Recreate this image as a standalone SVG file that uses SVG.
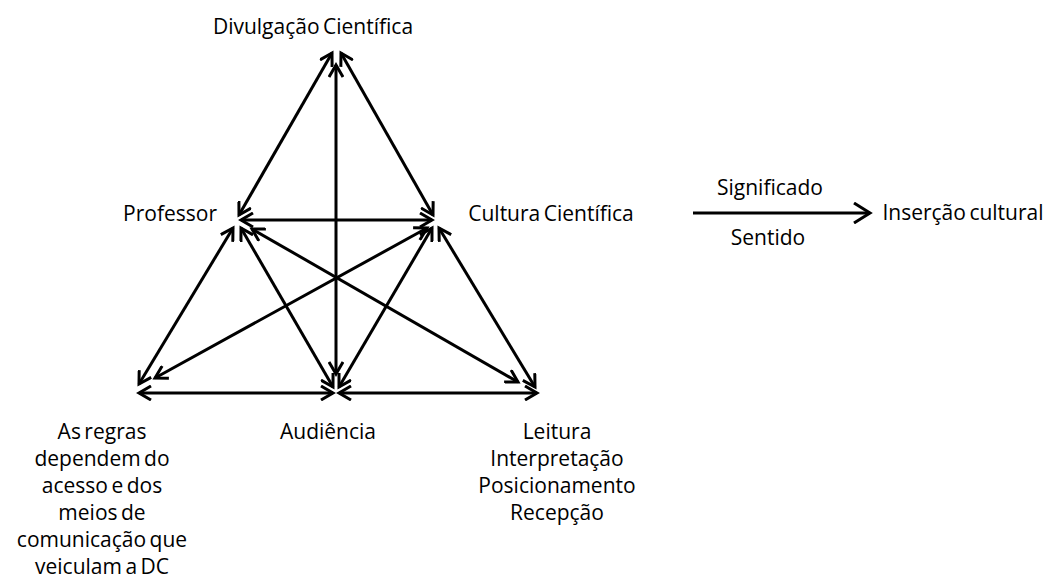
<svg xmlns="http://www.w3.org/2000/svg" width="1057" height="581" viewBox="0 0 1057 581">
<style>
text{font-family:"Open Sans","Noto Sans",sans-serif;font-size:21px;word-spacing:-2px;fill:#000;text-anchor:middle}
.c line{stroke:#000;stroke-width:3;fill:none}
.b{marker-start:url(#ah);marker-end:url(#ah)}
.s{marker-end:url(#ah2)}
</style>
<defs>
<marker id="ah" markerUnits="userSpaceOnUse" viewBox="0 0 16 16" markerWidth="16" markerHeight="16" refX="13" refY="8" orient="auto-start-reverse">
<path d="M1,1 L13,8 L1,15" fill="none" stroke="#000" stroke-width="3"/>
</marker>
<marker id="ah2" markerUnits="userSpaceOnUse" viewBox="0 0 20 22" markerWidth="20" markerHeight="22" refX="17" refY="11" orient="auto">
<path d="M1,1 L17,11 L1,21" fill="none" stroke="#000" stroke-width="3"/>
</marker>
</defs>
<rect width="1057" height="581" fill="#fff"/>
<g id="n-divulgacao"><text x="313" y="34">Divulgação Científica</text></g>
<g id="n-professor"><text x="170" y="221">Professor</text></g>
<g id="n-cultura"><text x="551" y="221">Cultura Científica</text></g>
<g id="n-regras"><text x="102" y="439">As regras</text><text x="102" y="466">dependem do</text><text x="102" y="493">acesso e dos</text><text x="102" y="520">meios de</text><text x="102" y="547">comunicação que</text><text x="102" y="574">veiculam a DC</text></g>
<g id="n-audiencia"><text x="328" y="439">Audiência</text></g>
<g id="n-leitura"><text x="557" y="439">Leitura</text><text x="557" y="466">Interpretação</text><text x="557" y="493">Posicionamento</text><text x="557" y="520">Recepção</text></g>
<g id="n-significado"><text x="770" y="195">Significado</text><text x="768" y="245">Sentido</text></g>
<g id="n-insercao"><text x="963" y="220">Inserção cultural</text></g>
<g id="connectors" class="c">
<line class="b" x1="239" y1="215" x2="332" y2="53"/>
<line class="b" x1="433" y1="215" x2="341" y2="53"/>
<line class="b" x1="336" y1="374" x2="336" y2="65"/>
<line class="b" x1="241" y1="220" x2="432" y2="220"/>
<line class="b" x1="233" y1="228" x2="139" y2="384"/>
<line class="b" x1="241" y1="228" x2="333" y2="387"/>
<line class="b" x1="252" y1="229" x2="518" y2="382"/>
<line class="b" x1="427" y1="228" x2="155" y2="378"/>
<line class="b" x1="432" y1="228" x2="339" y2="387"/>
<line class="b" x1="439" y1="228" x2="535" y2="387"/>
<line class="b" x1="139" y1="393" x2="333" y2="393"/>
<line class="b" x1="339" y1="393" x2="537" y2="393"/>
<line class="s" x1="693" y1="213" x2="870" y2="213"/>
</g>
</svg>
